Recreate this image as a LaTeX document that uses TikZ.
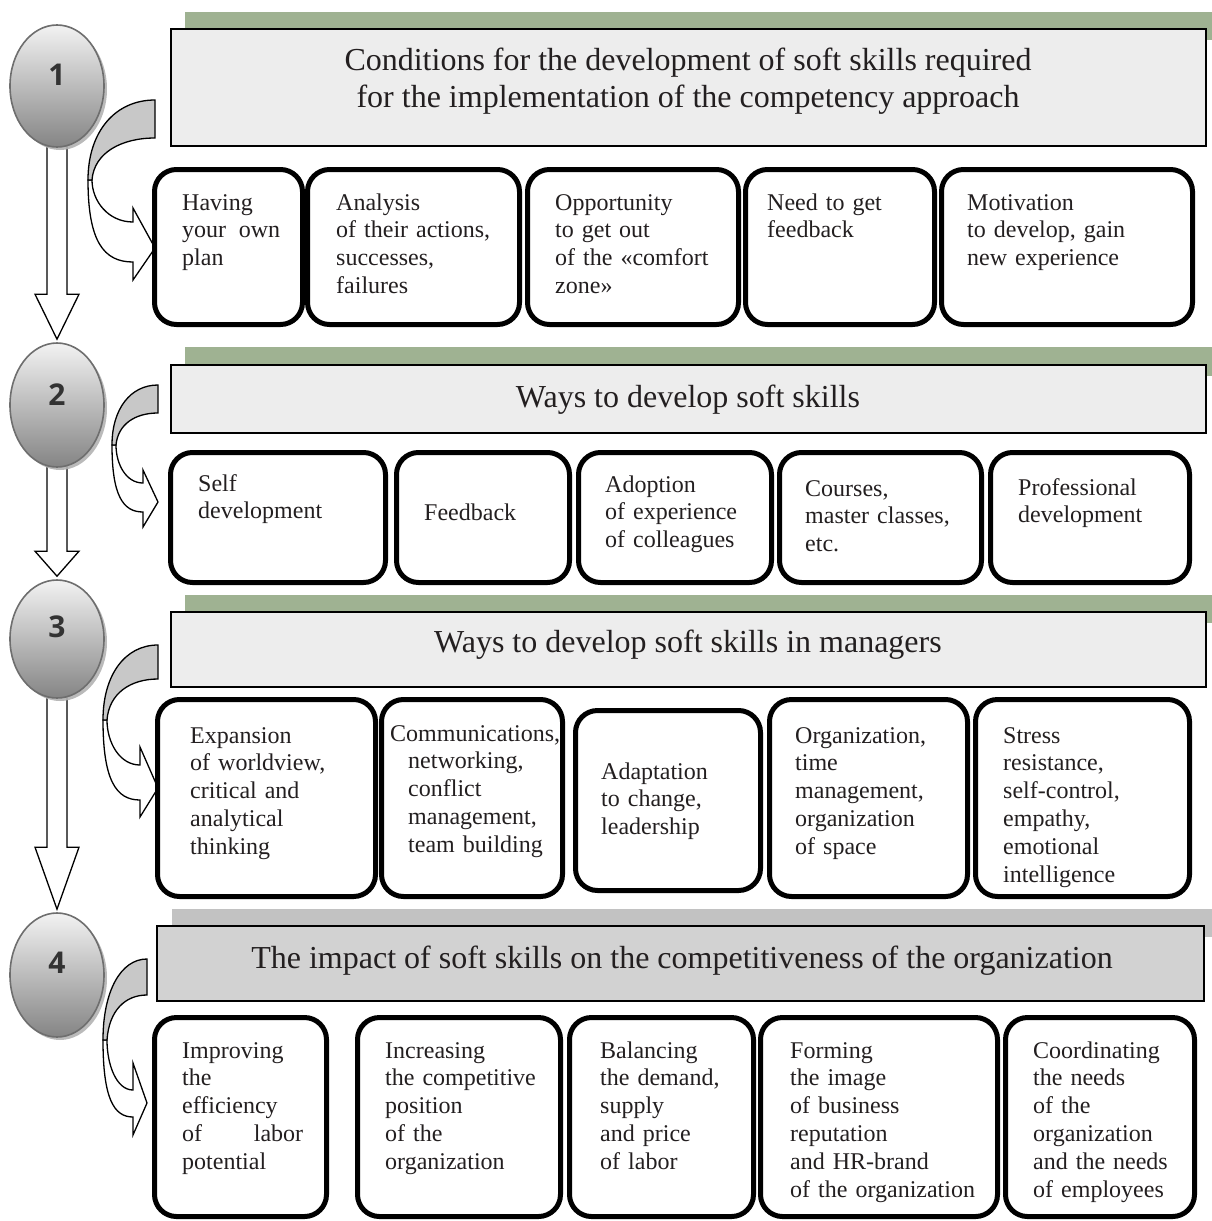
\documentclass[tikz,border=0pt]{standalone}
\usepackage{fontspec}
\setmainfont{Liberation Serif}
\newfontfamily\numfont{Open Sans}
\usetikzlibrary{shapes.geometric,calc,shadows,backgrounds}

\definecolor{txtc}{HTML}{231F20}
\definecolor{bandgreen}{HTML}{9FB292}
\definecolor{bandgray}{HTML}{C2C2C2}
\definecolor{hfillA}{HTML}{EDEDED}
\definecolor{hfillB}{HTML}{D2D2D2}
\definecolor{curvgray}{HTML}{C8C8C8}
\definecolor{ovalline}{HTML}{6E6E6E}

\tikzset{
  cell/.style={draw=black, line width=5pt, rounded corners=22pt, fill=white, inner sep=0pt},
  hbox/.style={draw=black, line width=2pt, inner sep=0pt},
  txt/.style={text=txtc, font=\fontsize{24}{27.8}\selectfont, align=left, text width=230pt, inner sep=0pt, anchor=base west},
  htxt/.style={text=txtc, font=\fontsize{32}{37}\selectfont, align=center, inner sep=0pt, anchor=base},
  oval/.style={ellipse, draw=ovalline, line width=1.6pt, top color=black!5, bottom color=black!48,
    minimum width=94pt, inner sep=0pt,
    drop shadow={shadow xshift=3pt, shadow yshift=-3pt, fill=black!30, opacity=0.9}},
  num/.style={text=black!80, font=\numfont\bfseries\fontsize{30}{30}\selectfont, inner sep=0pt},
  barrow/.style={draw=black, line width=1.3pt, fill=white, line join=miter},
  carrow/.style={draw=black, line width=1.3pt, line join=miter}
}

% cell box: name, x1, y1, x2, y2
\newcommand\cellbox[5]{\node[cell, minimum width={#4-#2-5}, minimum height={#5-#3-5}] (#1) at ({(#2+#4)/2},{(#3+#5)/2}) {};}
% header: name, x1, y1, x2, y2, fill colour, band colour, band x1, band y1
\newcommand\hdrbox[9]{%
  \fill[#7] (#8,#9) rectangle (1212,{#3+12});
  \node[hbox, fill=#6, minimum width={#4-#2-2}, minimum height={#5-#3-2}] (#1) at ({(#2+#4)/2},{(#3+#5)/2}) {};}
% block arrow from oval to oval, head length
\newcommand\blockarrow[3]{%
  \draw[barrow] ($(#1.south)+(-10,-6)$) -- ($(#2.north)+(-10,{-3-#3})$) -- ($(#2.north)+(-22,{-3-#3})$)
    -- ($(#2.north)+(0,-3)$) -- ($(#2.north)+(22,{-3-#3})$) -- ($(#2.north)+(10,{-3-#3})$)
    -- ($(#1.south)+(10,-6)$) -- cycle;}

\begin{document}
\begin{tikzpicture}[x=1pt, y=-1pt]
\useasboundingbox (0,0) rectangle (1212,1221);

% ---------- headers ----------
\hdrbox{h1}{170}{28}{1207}{147}{hfillA}{bandgreen}{185}{12}
\hdrbox{h2}{170}{364}{1207}{434}{hfillA}{bandgreen}{185}{347}
\hdrbox{h3}{170}{611}{1207}{688}{hfillA}{bandgreen}{185}{595}
\hdrbox{h4}{156}{925}{1205}{1002}{hfillB}{bandgray}{172}{909}

\node[htxt] (ht1) at (688,107) {Conditions for the development of soft skills required\\for the implementation of the competency approach};
\node[htxt] (ht2) at (688,407) {Ways to develop soft skills};
\node[htxt] (ht3) at (688,652) {Ways to develop soft skills in managers};
\node[htxt] (ht4) at (682,968) {The impact of soft skills on the competitiveness of the organization};

% ---------- ovals ----------
\node[oval, minimum height=122pt] (e1) at (57,86) {};
\node[oval, minimum height=124pt] (e2) at (57,405) {};
\node[oval, minimum height=118pt] (e3) at (57,639) {};
\node[oval, minimum height=124pt] (e4) at (57,975) {};
\node[num] (n1) at ($(e1.center)+(0,-11)$) {1};
\node[num] (n2) at ($(e2.center)+(0,-10)$) {2};
\node[num] (n3) at ($(e3.center)+(0,-12)$) {3};
\node[num] (n4) at ($(e4.center)+(0,-12)$) {4};

\begin{scope}[on background layer]
\blockarrow{e1}{e2}{45}
\blockarrow{e2}{e3}{25}
\blockarrow{e3}{e4}{62}
\end{scope}

% ---------- curved arrows ----------
\foreach \xr/\yt/\yb/\xl/\ym/\xh/\hone/\yi/\yo/\htwo/\ytip in {
  155/100/138/88/180/133/208/222/262/280/248,
  158/385/413/112/445/143/470/483/512/527/502,
  158/645/679/103/720/140/747/765/800/817/788,
  147/959/995/103/1040/133/1063/1090/1117/1135/1103}{
  \draw[carrow, fill=white] (\xl,\ym) .. controls (\xl,{\ym+0.75*(\yo-\ym)}) and ({\xl+0.35*(\xh-\xl)},\yo) .. (\xh,\yo)
     -- (\xh,\htwo) -- (\xr,\ytip) -- (\xh,\hone) -- (\xh,\yi)
     .. controls ({\xl+0.45*(\xh-\xl)},\yi) and ({\xl+4},{\ym+0.5*(\yi-\ym)}) .. ({\xl+4},\ym) -- cycle;
  \draw[carrow, fill=curvgray] (\xr,\yt) .. controls ({\xr-0.6*(\xr-\xl)},\yt) and (\xl,{\yt+0.4*(\ym-\yt)}) .. (\xl,\ym)
     -- ({\xl+4},\ym) .. controls ({\xl+6},{\yb+0.35*(\ym-\yb)}) and ({\xr-0.5*(\xr-\xl)},\yb) .. (\xr,\yb) -- cycle;
}

% ---------- row 1 ----------
\cellbox{c1a}{152}{167}{305}{327}
\cellbox{c1b}{305}{167}{522}{327}
\cellbox{c1c}{525}{167}{741}{327}
\cellbox{c1d}{743}{167}{937}{327}
\cellbox{c1e}{939}{167}{1195}{327}
\node[txt, text width=98pt] (t1a) at (182,210) {Having\\your\hfill own\\plan};
\node[txt] (t1b) at (336,210) {Analysis\\of their actions,\\successes,\\failures};
\node[txt] (t1c) at (555,210) {Opportunity\\to get out\\of the «comfort\\zone»};
\node[txt] (t1d) at (767,210) {Need to get\\feedback};
\node[txt] (t1e) at (967,210) {Motivation\\to develop, gain\\new experience};

% ---------- row 2 ----------
\cellbox{c2a}{168}{450}{388}{585}
\cellbox{c2b}{394}{450}{572}{585}
\cellbox{c2c}{576}{450}{774}{585}
\cellbox{c2d}{777}{450}{984}{585}
\cellbox{c2e}{988}{450}{1192}{585}
\node[txt] (t2a) at (198,491) {Self\\development};
\node[txt] (t2b) at (424,520) {Feedback};
\node[txt] (t2c) at (605,492) {Adoption\\of experience\\of colleagues};
\node[txt] (t2d) at (805,496) {Courses,\\master classes,\\etc.};
\node[txt] (t2e) at (1018,495) {Professional\\development};

% ---------- row 3 ----------
\cellbox{c3a}{155}{697}{378}{899}
\cellbox{c3b}{379}{697}{565}{899}
\cellbox{c3c}{573}{708}{763}{893}
\cellbox{c3d}{767}{697}{970}{899}
\cellbox{c3e}{973}{697}{1192}{899}
\node[txt] (t3a) at (190,743) {Expansion\\of worldview,\\critical and\\analytical\\thinking};
\node[txt] (t3b) at (390,741) {Communications,\\\hspace*{18pt}networking,\\\hspace*{18pt}conflict\\\hspace*{18pt}management,\\\hspace*{18pt}team building};
\node[txt] (t3c) at (601,779) {Adaptation\\to change,\\leadership};
\node[txt] (t3d) at (795,743) {Organization,\\time\\management,\\organization\\of space};
\node[txt] (t3e) at (1003,743) {Stress\\resistance,\\self-control,\\empathy,\\emotional\\intelligence};

% ---------- row 4 ----------
\cellbox{c4a}{152}{1015}{329}{1219}
\cellbox{c4b}{355}{1015}{563}{1219}
\cellbox{c4c}{567}{1015}{756}{1219}
\cellbox{c4d}{758}{1015}{1000}{1219}
\cellbox{c4e}{1003}{1015}{1197}{1219}
\node[txt, text width=121pt] (t4a) at (182,1058) {Improving\\the\\efficiency\\of\hfill labor\\potential};
\node[txt] (t4b) at (385,1058) {Increasing\\the competitive\\position\\of the\\organization};
\node[txt] (t4c) at (600,1058) {Balancing\\the demand,\\supply\\and price\\of labor};
\node[txt] (t4d) at (790,1058) {Forming\\the image\\of business\\reputation\\and HR-brand\\of the organization};
\node[txt] (t4e) at (1033,1058) {Coordinating\\the needs\\of the\\organization\\and the needs\\of employees};

\end{tikzpicture}
\end{document}
